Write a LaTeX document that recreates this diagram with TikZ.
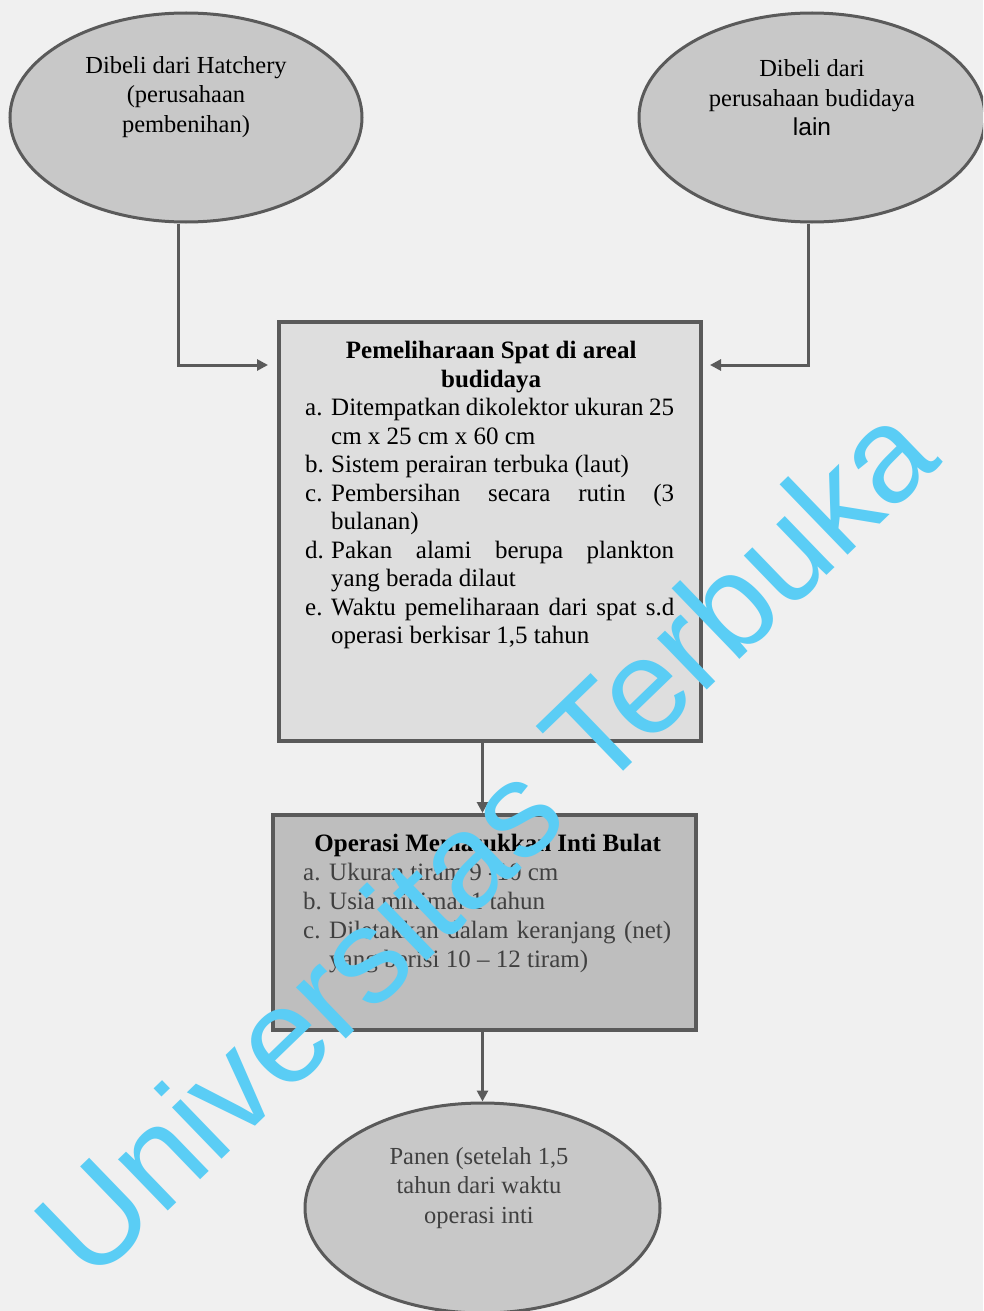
\documentclass[tikz,border=0pt]{standalone}
\usepackage{fontspec}
\setmainfont{Liberation Serif}
\newfontfamily\lsans{Liberation Sans}
\usetikzlibrary{shapes.geometric,arrows.meta}
\definecolor{bgc}{RGB}{240,240,240}
\definecolor{ellc}{RGB}{200,200,200}
\definecolor{boxa}{RGB}{222,222,222}
\definecolor{boxb}{RGB}{190,190,190}
\definecolor{linec}{RGB}{90,90,90}
\definecolor{wm}{RGB}{90,205,245}
\newcommand\jl[2][343pt]{\makebox[#1][s]{#2}}
\newcommand\lab[1]{\makebox[26pt][l]{#1}}
\newcommand\ind{\hspace*{26pt}}
\begin{document}
\begin{tikzpicture}[x=1pt,y=-1pt,
  ell/.style={ellipse, draw=linec, line width=3pt, fill=ellc, inner sep=0pt},
  boxst/.style={rectangle, draw=linec, line width=4pt, inner sep=0pt},
  txt/.style={inner sep=0pt, font=\fontsize{25}{28.5}\selectfont},
  etxt/.style={inner sep=0pt, align=center, font=\fontsize{24.5}{29.5}\selectfont},
  arr/.style={draw=linec, line width=3pt, -{Triangle[length=11pt,width=11pt]}},
]
\clip (0,0) rectangle (983,1311);
\fill[bgc] (0,0) rectangle (983,1311);
\node[ell, minimum width=352pt, minimum height=209pt] (e1) at (186,117.5) {};
\node[ell, minimum width=346pt, minimum height=209pt] (e2) at (812,117.5) {};
\node[boxst, fill=boxa, minimum width=422pt, minimum height=419pt] (b1) at (490,531.5) {};
\node[boxst, fill=boxb, minimum width=423pt, minimum height=215pt] (b2) at (484.5,922.5) {};
\node[ell, minimum width=355pt, minimum height=210pt] (e3) at (482.5,1208) {};
% ellipse texts
\node[etxt] (t1) at (186,97) {Dibeli dari Hatchery\\(perusahaan\\pembenihan)};
\node[etxt] (t2) at (812,98) {Dibeli dari\\perusahaan budidaya\\{\lsans lain}};
\node[etxt, text=black!75] (t5) at (479,1188) {Panen (setelah 1,5\\tahun dari waktu\\operasi inti};
% main box text
\node[txt, anchor=north west] (t3) at (305,341) {\parbox{372pt}{%
{\centering\bfseries Pemeliharaan Spat di areal\\budidaya\par}
\lab{a.}\jl{Ditempatkan dikolektor ukuran 25}\\
\ind cm x 25 cm x 60 cm\\
\lab{b.}Sistem perairan terbuka (laut)\\
\lab{c.}\jl{Pembersihan secara rutin (3}\\
\ind bulanan)\\
\lab{d.}\jl{Pakan alami berupa plankton}\\
\ind yang berada dilaut\\
\lab{e.}\jl{Waktu pemeliharaan dari spat s.d}\\
\ind operasi berkisar 1,5 tahun}};
% second box text
\node[inner sep=0pt, font=\fontsize{25}{29}\selectfont, anchor=north west] (t4) at (303,834) {\parbox{369pt}{%
{\centering\bfseries Operasi Memasukkan Inti Bulat\par}
{\color{black!75}%
\lab{a.}Ukuran tiram 9 -10 cm\\
\lab{b.}Usia minimal 1 tahun\\
\lab{c.}\jl[342pt]{Diletakkan dalam keranjang (net)}\\
\ind yang berisi 10 – 12 tiram)\par}}};
% connectors
\draw[arr] ([xshift=-8pt]e1.south) |- ([xshift=-9pt,yshift=-45pt]b1.north west);
\draw[arr] ([xshift=-4pt]e2.south) |- ([xshift=7pt,yshift=-45pt]b1.north east);
\draw[arr] (b1.south -| e3.north) -- (b2.north -| e3.north);
\draw[arr] (b2.south -| e3.north) -- (e3.north);
% watermark
\node[text=wm, font=\lsans\fontsize{135}{135}\selectfont, rotate=44, inner sep=0pt] (wmk) at (484,839) {Universitas Terbuka};
\end{tikzpicture}
\end{document}
